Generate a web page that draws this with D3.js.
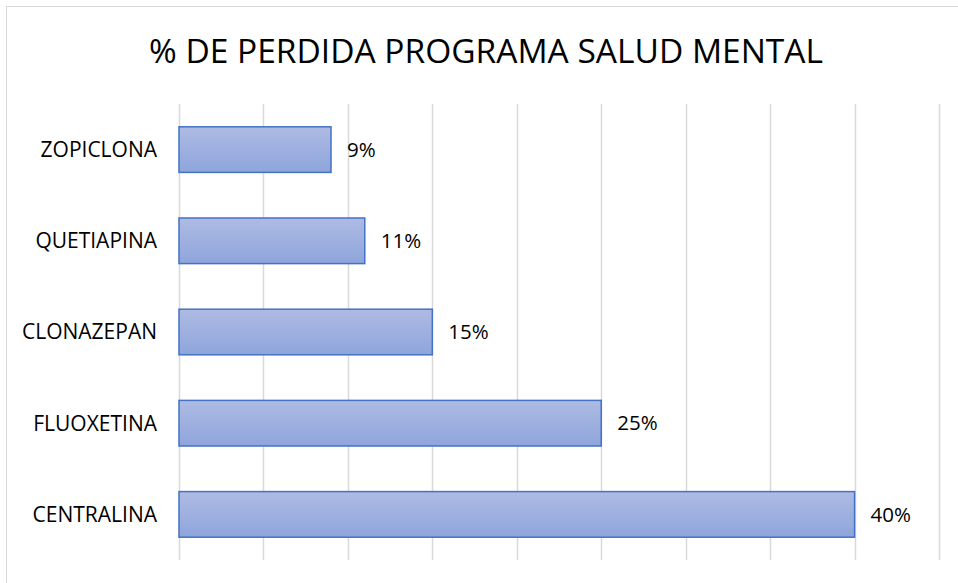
<!DOCTYPE html>
<html>
<head>
<meta charset="utf-8">
<script src="https://cdn.jsdelivr.net/npm/d3@7"></script>
<style>
  html, body { margin: 0; padding: 0; background: white; }
</style>
</head>
<body>
<div id="chart"></div>
<script>
// data
const categories = ["ZOPICLONA", "QUETIAPINA", "CLONAZEPAN", "FLUOXETINA", "CENTRALINA"];
const values = [9, 11, 15, 25, 40];
const xTicks = [0, 5, 10, 15, 20, 25, 30, 35, 40, 45];
const title = "% DE PERDIDA PROGRAMA SALUD MENTAL";

const width = 958, height = 583;
const fontFamily = "'Open Sans', 'Liberation Sans', sans-serif";

const svg = d3.select("#chart").append("svg")
    .attr("width", width)
    .attr("height", height)
    .style("font-family", fontFamily);

// chart frame (right and bottom edges fall outside the picture)
svg.append("rect")
    .attr("x", 6.5).attr("y", 6.5)
    .attr("width", 960).attr("height", 600)
    .attr("fill", "white")
    .attr("stroke", "#d9d9d9")
    .attr("stroke-width", 1);

// gradient for the bars
const defs = svg.append("defs");
const grad = defs.append("linearGradient")
    .attr("id", "barGrad")
    .attr("x1", 0).attr("y1", 0).attr("x2", 0).attr("y2", 1);
grad.append("stop").attr("offset", "0%").attr("stop-color", "#aebbe3");
grad.append("stop").attr("offset", "100%").attr("stop-color", "#8ea5dc");

const x = d3.scaleLinear()
    .domain([0, 45])
    .range([179, 939]);

const y = d3.scaleBand()
    .domain(categories)
    .range([104, 560])
    .paddingInner(0.5)
    .paddingOuter(0.25);

// vertical gridlines
svg.append("g")
    .selectAll("line")
    .data(xTicks)
    .join("line")
    .attr("x1", d => Math.round(x(d)) + 0.5)
    .attr("x2", d => Math.round(x(d)) + 0.5)
    .attr("y1", 104)
    .attr("y2", 560)
    .attr("stroke", "#d9d9d9")
    .attr("stroke-width", 1.5);

// bars
svg.append("g")
    .selectAll("rect")
    .data(values)
    .join("rect")
    .attr("x", x(0))
    .attr("y", (d, i) => y(categories[i]))
    .attr("width", d => x(d) - x(0))
    .attr("height", y.bandwidth())
    .attr("fill", "url(#barGrad)")
    .attr("stroke", "#4472c4")
    .attr("stroke-width", 1.5);

// value labels
svg.append("g")
    .selectAll("text")
    .data(values)
    .join("text")
    .attr("x", d => x(d) + 16)
    .attr("y", (d, i) => y(categories[i]) + y.bandwidth() / 2)
    .attr("dy", "0.35em")
    .attr("font-size", 20.5)
    .attr("fill", "#000")
    .text(d => d + "%");

// category labels
svg.append("g")
    .selectAll("text")
    .data(categories)
    .join("text")
    .attr("x", 157)
    .attr("y", d => y(d) + y.bandwidth() / 2)
    .attr("dy", "0.35em")
    .attr("text-anchor", "end")
    .attr("font-size", 21)
    .attr("fill", "#000")
    .text(d => d);

// title
svg.append("text")
    .attr("x", 486)
    .attr("y", 63)
    .attr("text-anchor", "middle")
    .attr("font-size", 33.5)
    .attr("fill", "#000")
    .text(title);
</script>
</body>
</html>
